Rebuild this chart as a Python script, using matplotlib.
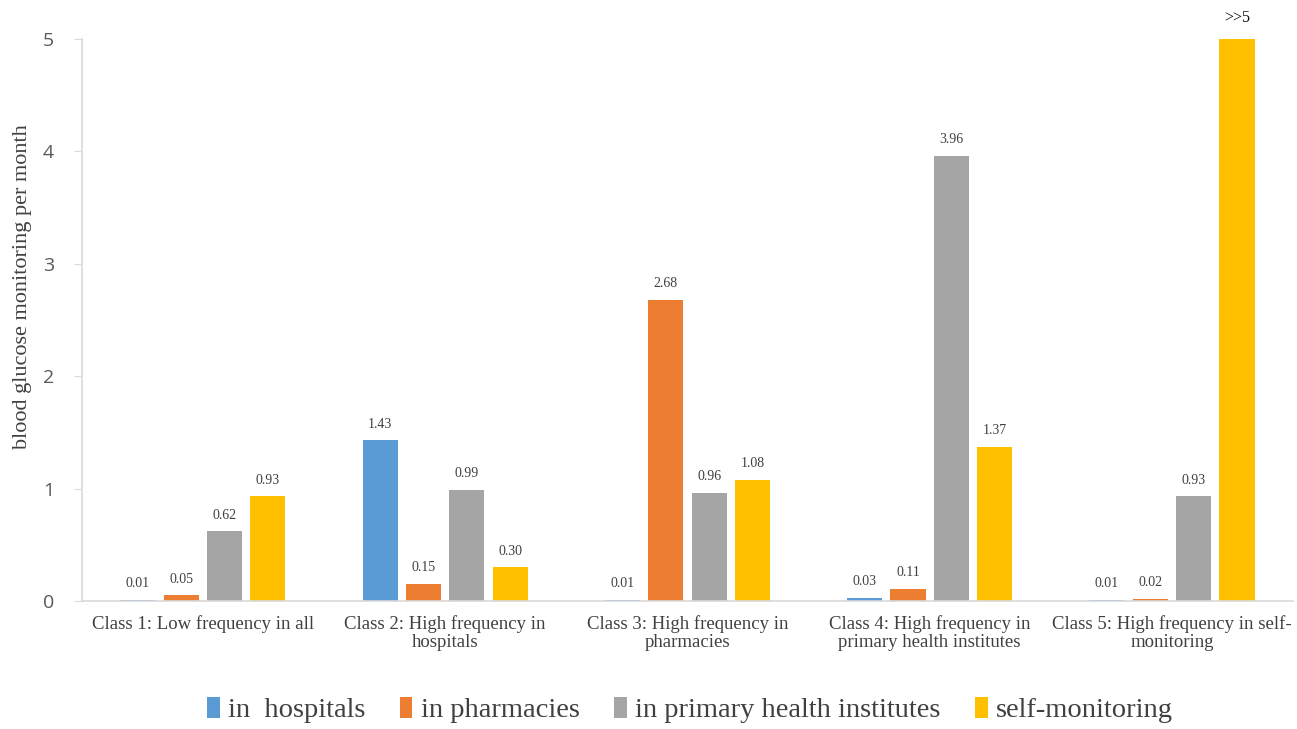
import matplotlib.pyplot as plt
import numpy as np

classes = ["Class 1: Low frequency in all",
           "Class 2: High frequency in\nhospitals",
           "Class 3: High frequency in\npharmacies",
           "Class 4: High frequency in\nprimary health institutes",
           "Class 5: High frequency in self-\nmonitoring"]
series = ["in  hospitals", "in pharmacies", "in primary health institutes", "self-monitoring"]
hospitals = [0.01, 1.43, 0.01, 0.03, 0.01]
pharmacies = [0.05, 0.15, 2.68, 0.11, 0.02]
primary = [0.62, 0.99, 0.96, 3.96, 0.93]
selfmon = [0.93, 0.30, 1.08, 1.37, 5.0]
self_labels = ["0.93", "0.30", "1.08", "1.37", ">>5"]

colors = ["#5B9BD5", "#ED7D31", "#A5A5A5", "#FFC000"]
data = [hospitals, pharmacies, primary, selfmon]

fig = plt.figure(figsize=(12.97, 7.29), dpi=100)
ax = fig.add_axes([0.063, 0.1756, 0.934, 0.771])

x = np.arange(len(classes))
step = 0.179
width = 0.145
for i, (vals, c, name) in enumerate(zip(data, colors, series)):
    pos = x + (i - 1.5) * step
    bars = ax.bar(pos, vals, width, color=c, label=name)
    if i == 3:
        labels = self_labels
    else:
        labels = ["%.2f" % v for v in vals]
    for b, lab in zip(bars, labels):
        if lab == ">>5":
            ax.annotate(lab, (b.get_x() + b.get_width() / 2, b.get_height()),
                        xytext=(0, 9), textcoords="offset points", ha="center",
                        va="bottom", fontsize=11.5, family="Liberation Serif", color="#111111")
        else:
            ax.annotate(lab, (b.get_x() + b.get_width() / 2, b.get_height()),
                        xytext=(0, 7), textcoords="offset points", ha="center",
                        va="bottom", fontsize=10, family="Liberation Serif", color="#404040")

ax.set_xlim(-0.5, 4.5)
ax.set_ylim(0, 5)
ax.set_yticks([0, 1, 2, 3, 4, 5])
ax.set_xticks(x)
ax.set_xticklabels(classes, family="Liberation Serif", fontsize=13.5, color="#404040",
                   linespacing=1.1)
for lab in ax.get_yticklabels():
    lab.set_family("Open Sans")
    lab.set_fontsize(14)
    lab.set_color("#595959")
ax.tick_params(axis="x", length=0, pad=10)
ax.tick_params(axis="y", length=6, color="#D9D9D9", pad=14)
ax.set_ylabel("blood glucose monitoring per month", family="Liberation Serif",
              fontsize=16, color="#404040")
ax.yaxis.set_label_coords(-0.041, 0.559)
for s in ["top", "right"]:
    ax.spines[s].set_visible(False)
ax.spines["left"].set_color("#D9D9D9")
ax.spines["bottom"].set_color("#D9D9D9")
ax.spines["left"].set_linewidth(1.2)
ax.spines["bottom"].set_linewidth(1.2)

fig.legend(loc="center", bbox_to_anchor=(0.532, 0.026), ncol=4, frameon=False,
           prop={"family": "Liberation Serif", "size": 20.5}, handlelength=0.45,
           handleheight=0.75, handletextpad=0.3, columnspacing=1.2, labelcolor="#404040")

fig.savefig("out.png", dpi=100)
